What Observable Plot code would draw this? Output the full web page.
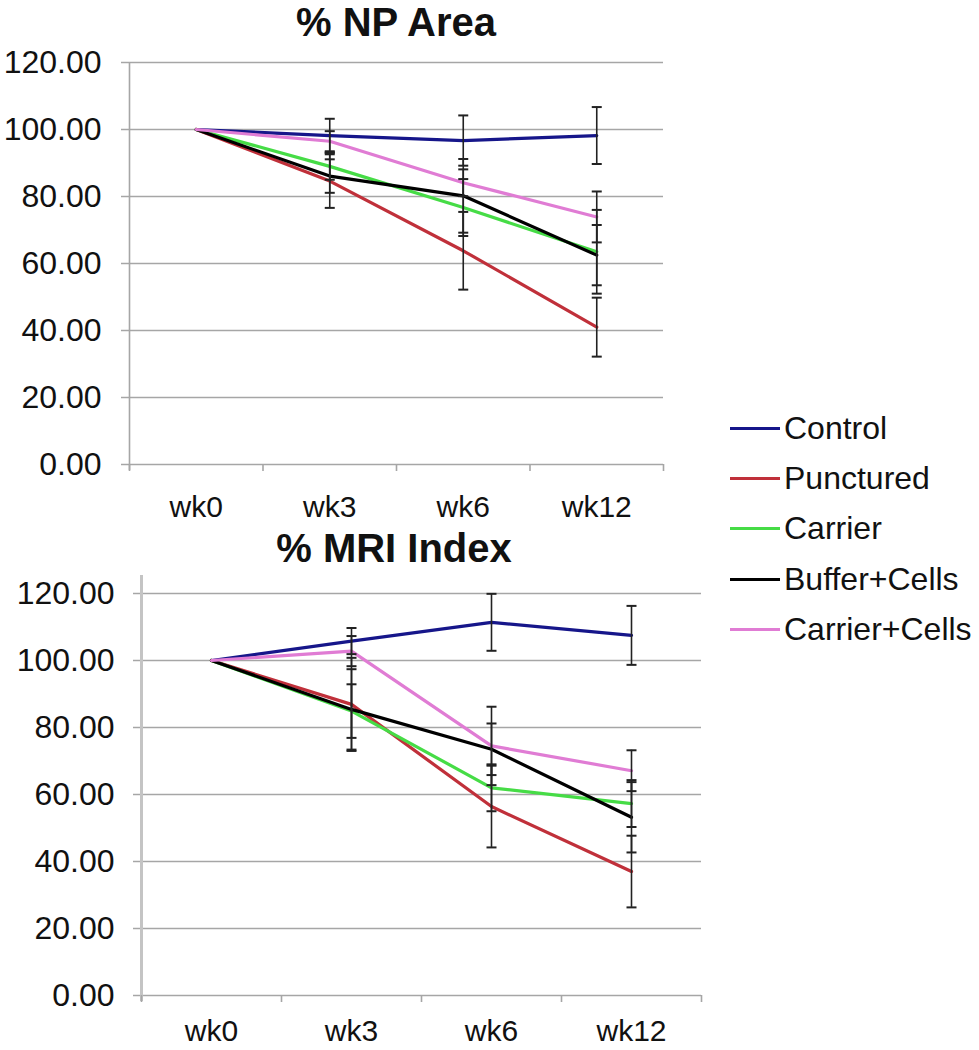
<!DOCTYPE html>
<html>
<head>
<meta charset="utf-8">
<script src="https://cdn.jsdelivr.net/npm/d3@7"></script>
<script src="https://cdn.jsdelivr.net/npm/@observablehq/plot@0.6"></script>
<style>
  body { margin: 0; background: #fff; }
  #wrap { position: relative; width: 979px; height: 1050px; overflow: hidden; font-family: "Liberation Sans", Arial, sans-serif; color: #111; }
  .title { position: absolute; font-weight: bold; font-size: 40px; line-height: normal; transform: translateX(-50%); white-space: nowrap; }
  .panel { position: absolute; left: 0; }
  #legend { position: absolute; left: 730px; top: 0; }
  .item { position: absolute; left: 0; display: flex; align-items: center; white-space: nowrap; font-size: 32px; line-height: 36px; transform: translateY(-50%); }
  .swatch { width: 50px; height: 3px; margin-right: 4px; }
</style>
</head>
<body>
<div id="wrap">
  <div class="panel" id="top" style="top:0px;"></div>
  <div class="panel" id="bottom" style="top:531px;"></div>
  <div class="title" style="left:396px; top:0px;">% NP Area</div>
  <div class="title" style="left:394px; top:526px;">% MRI Index</div>
  <div id="legend"></div>
</div>
<script>
const weeks = ["wk0", "wk3", "wk6", "wk12"];
const series = ["Control", "Punctured", "Carrier", "Buffer+Cells", "Carrier+Cells"];
const colors = ["#16168a", "#c0303a", "#46dc46", "#000000", "#e07cd4"];
const yTicks = [0, 20, 40, 60, 80, 100, 120];

// % NP Area
const npControl      = [100, 98.2, 96.7, 98.2];
const npPunctured    = [100, 84.6, 63.8, 41.0];
const npCarrier      = [100, 89.0, 76.7, 63.5];
const npBufferCells  = [100, 86.1, 80.2, 62.5];
const npCarrierCells = [100, 96.5, 84.1, 73.9];
const npErrControl      = [0, 5.0, 7.5, 8.5];
const npErrPunctured    = [0, 8.0, 11.6, 8.8];
const npErrCarrier      = [0, 4.0, 8.5, 12.5];
const npErrBufferCells  = [0, 5.0, 11.0, 9.0];
const npErrCarrierCells = [0, 3.0, 4.0, 7.6];

// % MRI Index
const mriControl      = [100, 105.8, 111.4, 107.5];
const mriPunctured    = [100, 86.9, 56.4, 37.0];
const mriCarrier      = [100, 84.9, 62.0, 57.3];
const mriBufferCells  = [100, 85.4, 73.5, 53.2];
const mriCarrierCells = [100, 102.8, 74.5, 67.1];
const mriErrControl      = [0, 3.9, 8.5, 8.8];
const mriErrPunctured    = [0, 13.9, 12.2, 10.7];
const mriErrCarrier      = [0, 8.0, 7.0, 7.0];
const mriErrBufferCells  = [0, 12.0, 7.7, 10.5];
const mriErrCarrierCells = [0, 4.5, 11.7, 6.1];

function buildRows(vals, errs) {
  const rows = [];
  series.forEach((s, si) => {
    weeks.forEach((w, wi) => {
      rows.push({series: s, si, week: w, wi, value: vals[si][wi], err: errs[si][wi]});
    });
  });
  return rows;
}

const capSymbol = {
  draw(context, size) {
    const r = Math.sqrt(size / Math.PI);
    context.moveTo(-r, 0);
    context.lineTo(r, 0);
  }
};

function panel(rows, opts) {
  const bounds = d3.range(weeks.length + 1).map(i => i - 0.5);
  const errRows = rows.filter(d => d.err > 0);
  const grid = "#a6a6a6";
  return Plot.plot({
    width: opts.width,
    height: opts.height,
    marginLeft: opts.ml,
    marginRight: opts.mr,
    marginTop: 62,
    marginBottom: opts.height - 62 - 402,
    style: {fontFamily: '"Liberation Sans", Arial, sans-serif', color: "#111", background: "transparent", overflow: "visible"},
    x: {type: "linear", domain: [-0.5, weeks.length - 0.5], axis: null},
    y: {domain: [0, 120], axis: null},
    color: {domain: series, range: colors},
    marks: [
      Plot.ruleY(yTicks, {stroke: grid, strokeWidth: 1.6, insetLeft: -8}),
      Plot.ruleX([-0.5], {stroke: opts.axisColor, strokeWidth: opts.axisWidth, insetBottom: -6, insetTop: opts.axisTop}),
      Plot.axisX(bounds, {tickSize: 7, stroke: grid, strokeWidth: 1.6, tickFormat: () => "", anchor: "bottom", label: null}),
      Plot.axisX(d3.range(weeks.length), {tickSize: 0, tickPadding: opts.xPad, tickFormat: i => weeks[i], fontSize: 30, anchor: "bottom", fill: "#111", label: null}),
      Plot.axisY(yTicks, {tickSize: 0, tickPadding: opts.yPad, tickFormat: d => d.toFixed(2), fontSize: 32, anchor: "left", fill: "#111", label: null}),
      Plot.line(rows, {x: "wi", y: "value", z: "series", stroke: "series", strokeWidth: 3.2, strokeLinejoin: "round"}),
      Plot.ruleX(errRows, {x: "wi", y1: d => d.value - d.err, y2: d => d.value + d.err, stroke: "#222", strokeWidth: 1.6}),
      Plot.dot(errRows, {x: "wi", y: d => d.value - d.err, symbol: capSymbol, r: 5, stroke: "#222", strokeWidth: 2, fill: "none"}),
      Plot.dot(errRows, {x: "wi", y: d => d.value + d.err, symbol: capSymbol, r: 5, stroke: "#222", strokeWidth: 2, fill: "none"})
    ]
  });
}

const npRows = buildRows(
  [npControl, npPunctured, npCarrier, npBufferCells, npCarrierCells],
  [npErrControl, npErrPunctured, npErrCarrier, npErrBufferCells, npErrCarrierCells]
);
const mriRows = buildRows(
  [mriControl, mriPunctured, mriCarrier, mriBufferCells, mriCarrierCells],
  [mriErrControl, mriErrPunctured, mriErrCarrier, mriErrBufferCells, mriErrCarrierCells]
);

document.getElementById("top").append(panel(npRows, {width: 700, height: 520, ml: 129, mr: 37, xPad: 31, yPad: 28, axisColor: "#a6a6a6", axisWidth: 1.6, axisTop: 0}));
document.getElementById("bottom").append(panel(mriRows, {width: 740, height: 519, ml: 141, mr: 39, xPad: 24, yPad: 27, axisColor: "#c4c4c4", axisWidth: 3, axisTop: -18}));

const legendY = [428, 478, 528, 579, 629];
const legend = document.getElementById("legend");
series.forEach((s, i) => {
  const item = document.createElement("div");
  item.className = "item";
  item.style.top = legendY[i] + "px";
  const sw = document.createElement("div");
  sw.className = "swatch";
  sw.style.background = colors[i];
  const label = document.createElement("span");
  label.textContent = s;
  item.append(sw, label);
  legend.append(item);
});
</script>
</body>
</html>
